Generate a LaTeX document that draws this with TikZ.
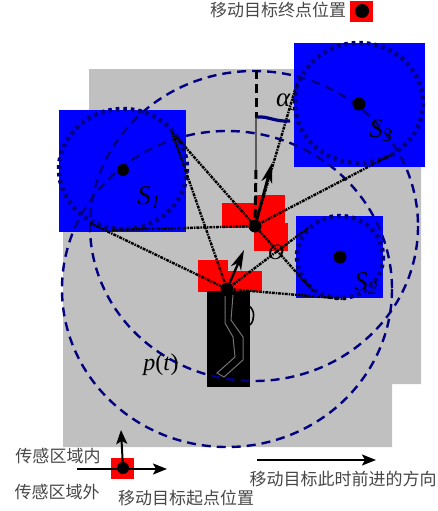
\documentclass[tikz,border=0pt]{standalone}
\usepackage{fontspec}
\setmainfont{Liberation Serif}
\newfontfamily\cjk{Noto Sans CJK SC}
\usetikzlibrary{arrows.meta}
\definecolor{bggray}{RGB}{192,192,192}
\definecolor{navyd}{RGB}{0,0,128}
\tikzset{
  x=1pt,y=-1pt,
  dot/.style={circle,fill=black,inner sep=0pt,minimum size=#1},
  bigarc/.style={draw=navyd,line width=2.4pt,dash pattern=on 9pt off 6pt},
  dotarc/.style={draw=navyd,line width=4.4pt,dash pattern=on 3.6pt off 3.9pt},
  link/.style={draw=black,line width=2.4pt,dash pattern=on 3pt off 1pt on 1.5pt off 1pt},
  cn/.style={font=\cjk\fontsize{17}{17}\selectfont,text=black!72,inner sep=0pt},
  sym/.style={font=\fontsize{27}{27}\selectfont\itshape,text=black,inner sep=0pt},
  kite/.style={-{Stealth[length=20pt,width=11pt,inset=6pt]}},
  flat/.style={-{Stealth[length=14pt,width=11pt,inset=3pt]},line width=2pt},
}
\begin{document}
\begin{tikzpicture}
\useasboundingbox (0,0) rectangle (437,511);
% sensing region
\fill[bggray] (89,69)--(421,69)--(421,384)--(392,384)--(392,447)--(63,447)--(63,231)--(89,231)--cycle;
% alpha and hidden mark
\node[sym,anchor=west] (alab) at (276,102) {α\textsubscript{3}};
\draw[line width=1.6pt] (249,306) .. controls (255,310) and (255,320) .. (250,325);
% red zones
\fill[red] (222,203) rectangle (256,228);
\fill[red] (255,195) rectangle (285,224);
\fill[red] (254,223) rectangle (288,251);
\fill[red] (198,260) rectangle (228,292);
\fill[red] (227,271) rectangle (262,292);
% blue squares
\fill[blue] (59,110) rectangle (186,232);
\fill[blue] (294,43) rectangle (425,167);
\fill[blue] (296,216) rectangle (383,298);
% black trail box
\fill[black] (207,291) rectangle (250,387);
\draw[black!55,line width=1pt] (225,296)--(225,323)--(233,337)--(235,357)--(217,373)--(224,377)--(243,360)--(243,337)--(231,320)--(233,295);
% big dashed circles
\draw[bigarc] (254,226) ellipse [x radius=164,y radius=155];
\draw[bigarc] (227,289) ellipse [x radius=165,y radius=158];
% sensor circles
\draw[dotarc] (123,169) ellipse [x radius=64,y radius=60];
\draw[dotarc] (359,103) ellipse [x radius=64,y radius=60];
\draw[dotarc] (340,257) ellipse [x radius=43,y radius=41];
% named points
\node[dot=12pt] (S1) at (123,170) {};
\node[dot=13pt] (S3) at (359,104) {};
\node[dot=13pt] (S2) at (340,257) {};
\node[dot=13pt] (O) at (255,226) {};
\node[dot=13pt] (P) at (227,289) {};
\coordinate (a1) at (172,132);
\coordinate (a2) at (112,230);
\coordinate (a3) at (90,223);
\coordinate (b1) at (297,83);
\coordinate (b2) at (391,155);
\coordinate (c1) at (308,228);
\coordinate (c2) at (313,291);
\coordinate (c3) at (346,299);
\coordinate (top) at (256,70);
\coordinate (headO) at (272,163);
\coordinate (headP) at (244,250);
% links
\draw[link] (a1)--(O);
\draw[link] (a2)--(O);
\draw[link] (a1)--(P);
\draw[link] (a3)--(P);
\draw[link] (b1)--(O);
\draw[link] (b2)--(O);
\draw[link] (c2)--(O);
\draw[link] (c1)--(P);
\draw[link] (c3)--(P);
% vertical reference
\draw[line width=3pt,dash pattern=on 9pt off 5pt] (top)--(256,118);
\draw[black!65,line width=1.2pt] (256,118)--(256,170);
\draw[line width=3pt,dash pattern=on 9pt off 4pt] (256,170)--(O);
% angle mark
\draw[navyd,line width=3.2pt] (257,117) .. controls (268,116) and (275,122) .. (290,121);
% heading arrows
\draw[kite,line width=2.8pt] (O)--(headO);
\draw[kite,line width=2.4pt] (P)--(headP);
% labels
\node[sym] (Sa) at (149,198) {S\textsubscript{1}};
\node[sym] (Sb) at (381,131) {S\textsubscript{3}};
\node[sym] (Sc) at (366,284) {S\textsubscript{2}};
\node[sym,font=\fontsize{22}{22}\selectfont\itshape] (Olab) at (276,252) {O};
\node[sym,font=\fontsize{24}{24}\selectfont] (plab) at (161,365) {\textit{p}(\textit{t})};
% legend top
\node[cn] (endtxt) at (278,10) {移动目标终点位置};
\node[fill=red,minimum width=23pt,minimum height=21pt,inner sep=0pt] (endsq) at (361.5,11.5) {};
\node[dot=14pt] (enddot) at (362,11) {};
% legend bottom
\node[fill=red,minimum width=23pt,minimum height=21pt,inner sep=0pt] (startsq) at (122.5,468.5) {};
\node[dot=12pt] (startdot) at (123,468) {};
\coordinate (w) at (77,469);
\coordinate (e) at (167,469);
\coordinate (n) at (121,430);
\draw[flat] (w)--(e);
\draw[flat] (startdot)--(n);
\coordinate (dirw) at (257,460);
\coordinate (dire) at (376,460);
\draw[flat] (dirw)--(dire);
\node[cn] (inside) at (58,456) {传感区域内};
\node[cn] (outside) at (57,492) {传感区域外};
\node[cn] (starttxt) at (186,498) {移动目标起点位置};
\node[cn] (dirtxt) at (343,479) {移动目标此时前进的方向};
\end{tikzpicture}
\end{document}
